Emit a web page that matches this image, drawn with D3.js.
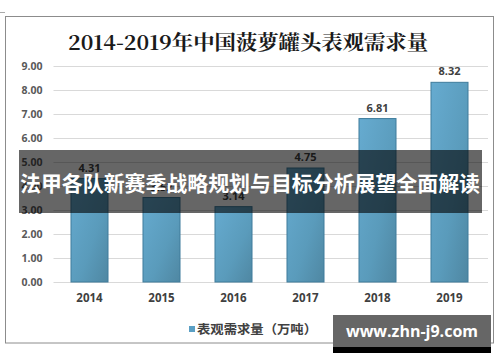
<!DOCTYPE html>
<html>
<head>
<meta charset="utf-8">
<script src="https://cdn.jsdelivr.net/npm/d3@7"></script>
<style>
  body { margin: 0; background: #fff; }
  svg { display: block; }
</style>
</head>
<body>
<svg id="chart" width="500" height="362"></svg>
<script>
// chart values
var years = ["2014", "2015", "2016", "2017", "2018", "2019"];
var demand = [4.31, 3.52, 3.14, 4.75, 6.81, 8.32];
var yTicks = [0, 1, 2, 3, 4, 5, 6, 7, 8, 9];
var title = "2014-2019年中国菠萝罐头表观需求量";
var legendLabel = "表观需求量（万吨）";
var bannerText = "法甲各队新赛季战略规划与目标分析展望全面解读";
var siteText = "www.zhn-j9.com";

var svg = d3.select("#chart");
var cjk = "'Noto Sans CJK SC', 'Noto Sans', sans-serif";

var margin = { top: 66, left: 53.5, right: 14.5, bottom: 80 };
var plot_w = 500 - margin.left - margin.right,
  plot_h = 282 - margin.top;

var x = d3.scaleBand().domain(years).range([margin.left, margin.left + plot_w]).paddingInner(0.486).paddingOuter(0.243);
var y = d3.scaleLinear().domain([0, 9]).range([282, margin.top]);

// gradient for bars
var defs = svg.append("defs");
var grad = defs.append("linearGradient").attr("id", "barGrad")
  .attr("x1", "0").attr("y1", "0").attr("x2", "1").attr("y2", "1");
grad.append("stop").attr("offset", "0%").attr("stop-color", "#66abd0");
grad.append("stop").attr("offset", "60%").attr("stop-color", "#5a9bbb");
grad.append("stop").attr("offset", "100%").attr("stop-color", "#4f87a2");

// small mark top-left and frame
svg.append("line").attr("x1", 0).attr("x2", 5).attr("y1", 12.5).attr("y2", 12.5)
  .attr("stroke", "#aaa");
svg.append("rect").attr("x", 5.5).attr("y", 16.5).attr("width", 488).attr("height", 326.5)
  .attr("fill", "none").attr("stroke", "#8c8c8c");

svg.append("text").attr("x", 248).attr("y", 50)
  .attr("text-anchor", "middle")
  .style("font-family", "'Noto Serif CJK SC', 'DejaVu Serif', serif")
  .style("font-size", "20px").style("font-weight", "bold").attr("fill", "#1a1a1a")
  .attr("textLength", 360).attr("lengthAdjust", "spacingAndGlyphs")
  .text(title);

// grid + y labels
var axis_y = d3.axisLeft(y).tickValues(yTicks).tickFormat(d3.format(".2f"))
  .tickSize(-(488 - margin.left)).tickPadding(11);
var gy = svg.append("g").attr("transform", "translate(" + margin.left + ",0)").call(axis_y);
gy.select(".domain").remove();
gy.selectAll(".tick line").attr("stroke", "#d9d9d9").attr("stroke-width", 1);
gy.selectAll(".tick text").attr("fill", "#595959")
  .style("font-family", "'Open Sans', 'DejaVu Sans', sans-serif")
  .style("font-size", "10.5px").style("font-weight", "bold");

// bars
svg.append("g").selectAll("rect").data(demand).enter().append("rect")
  .attr("x", (d, i) => x(years[i]))
  .attr("y", (d) => y(d))
  .attr("width", x.bandwidth())
  .attr("height", (d) => y(0) - y(d))
  .attr("fill", "url(#barGrad)")
  .attr("stroke", "#3f7c9c").attr("stroke-width", 1);

svg.append("g").selectAll("text").data(demand).enter().append("text")
  .attr("x", (d, i) => x(years[i]) + x.bandwidth() / 2)
  .attr("y", (d) => y(d) - 7)
  .attr("text-anchor", "middle").attr("fill", "#404040")
  .style("font-family", "'Open Sans', 'DejaVu Sans', sans-serif")
  .style("font-size", "11px").style("font-weight", "bold")
  .text((d) => d.toFixed(2));

// x labels
var axis_x = d3.axisBottom(x).tickSize(0).tickPadding(12);
var gx = svg.append("g").attr("transform", "translate(0,282)").call(axis_x);
gx.select(".domain").remove();
gx.selectAll(".tick text").attr("fill", "#404040")
  .style("font-family", "'Open Sans', 'DejaVu Sans', sans-serif")
  .style("font-size", "11.5px").style("font-weight", "bold");

// legend
svg.append("rect").attr("x", 189).attr("y", 326).attr("width", 6).attr("height", 6)
  .attr("fill", "#5a9fc4");
svg.append("text").attr("x", 197).attr("y", 334)
  .style("font-family", cjk).style("font-size", "12.5px").style("font-weight", "bold")
  .attr("fill", "#404040")
  .attr("textLength", 120).attr("lengthAdjust", "spacingAndGlyphs")
  .text(legendLabel);

// overlay banner
svg.append("rect").attr("x", 19).attr("y", 150).attr("width", 463).attr("height", 63)
  .attr("fill", "rgba(0,0,0,0.6)");
svg.append("text").attr("x", 250).attr("y", 191)
  .attr("text-anchor", "middle").attr("fill", "#fff")
  .style("font-family", cjk).style("font-size", "21px").style("font-weight", "bold")
  .attr("textLength", 460).attr("lengthAdjust", "spacingAndGlyphs")
  .text(bannerText);

// site watermark
svg.append("rect").attr("x", 333).attr("y", 347).attr("width", 158).attr("height", 6).attr("fill", "#000");
svg.append("rect").attr("x", 333).attr("y", 315).attr("width", 158).attr("height", 32).attr("fill", "#666");
svg.append("text").attr("x", 412).attr("y", 337)
  .attr("text-anchor", "middle").attr("fill", "#fff")
  .style("font-family", "'Open Sans', 'DejaVu Sans', sans-serif")
  .style("font-size", "16px").style("font-weight", "bold")
  .text(siteText);
</script>
</body>
</html>
